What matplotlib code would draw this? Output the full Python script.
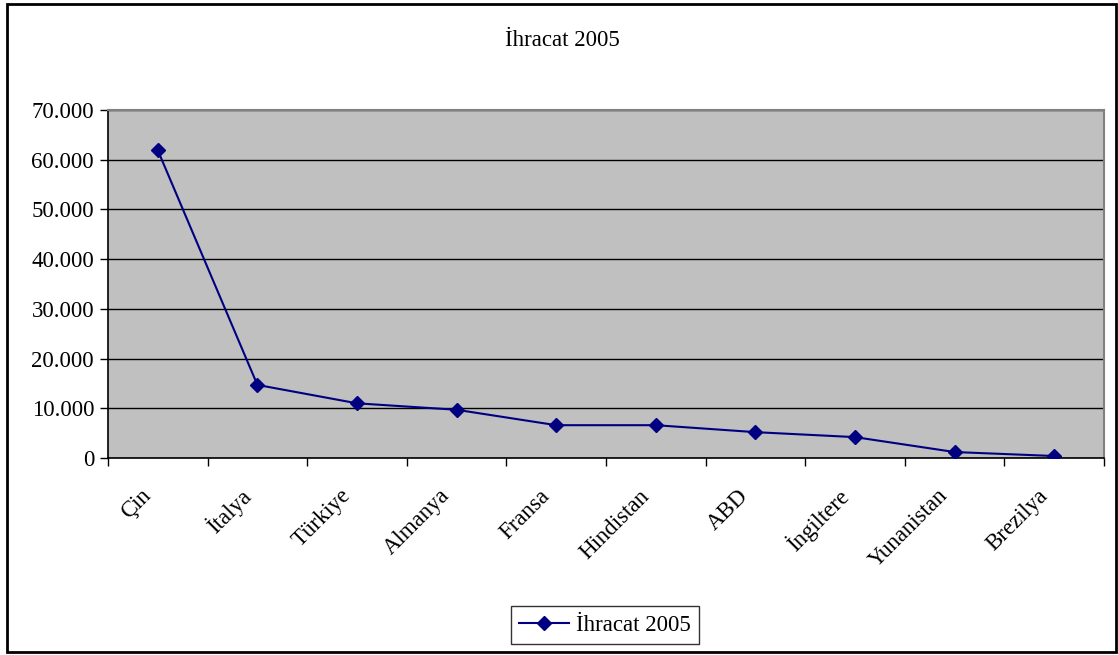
import numpy as np
import matplotlib
matplotlib.use("Agg")
import matplotlib.pyplot as plt
from matplotlib.patches import Rectangle
from matplotlib.ticker import FuncFormatter, FixedLocator
from matplotlib.transforms import ScaledTranslation

countries = ["Çin", "İtalya", "Türkiye", "Almanya", "Fransa",
             "Hindistan", "ABD", "İngiltere", "Yunanistan", "Brezilya"]
export_2005 = [61900, 14700, 11000, 9700, 6600, 6600, 5200, 4200, 1200, 400]
series_name = "İhracat 2005"

plt.rcParams["font.family"] = ["Liberation Serif", "DejaVu Serif"]
fs = 16.5

fig = plt.figure(figsize=(11.18, 6.55), dpi=100)
ax = fig.add_axes([108 / 1118, 197 / 655, 996 / 1118, 348 / 655])
ax.set_facecolor("#c0c0c0")

x = np.arange(len(countries))
ax.plot(x, export_2005, color="#000080", marker="D", markersize=7.5,
        linewidth=1.5, label=series_name, zorder=3)

ax.set_xlim(-0.5, len(countries) - 0.5)
ax.set_ylim(0, 70000)
ax.set_yticks(np.arange(0, 70001, 10000))
ax.yaxis.set_major_formatter(FuncFormatter(lambda v, p: f"{int(v):,}".replace(",", ".")))
ax.grid(axis="y", color="black", linewidth=1)
ax.set_axisbelow(True)

# category labels at centres, tick marks at the boundaries
ax.set_xticks(x)
ax.set_xticklabels(countries, rotation=45, ha="right", va="center",
                   rotation_mode="anchor")
ax.tick_params(axis="x", which="major", length=0, pad=20, labelsize=fs)
ax.xaxis.set_minor_locator(FixedLocator(np.arange(-0.5, len(countries), 1.0)))
ax.tick_params(axis="x", which="minor", length=6, width=1, color="black")
ax.tick_params(axis="y", length=6, width=1, labelsize=fs, pad=4)

# nudge rotated labels a bit left and down, like the original
shift = ScaledTranslation(-10 / 100, -7 / 100, fig.dpi_scale_trans)
for lbl in ax.get_xticklabels():
    lbl.set_transform(lbl.get_transform() + shift)

for side in ["top", "right"]:
    ax.spines[side].set_color("#808080")
    ax.spines[side].set_linewidth(1.5)
for side in ["left", "bottom"]:
    ax.spines[side].set_color("black")
    ax.spines[side].set_linewidth(1.2)

fig.text(562 / 1118, 1 - 40 / 655, series_name, ha="center", va="center", fontsize=fs)

leg = fig.legend(loc="center", bbox_to_anchor=(605 / 1118, 1 - 625 / 655),
                 fontsize=fs, frameon=True, fancybox=False, handlelength=2.2,
                 borderpad=0.35, handletextpad=0.3)
leg.get_frame().set_edgecolor("black")
leg.get_frame().set_linewidth(1)

fig.patches.append(Rectangle((7 / 1118, 3 / 655), 1109 / 1118, 648 / 655,
                             transform=fig.transFigure, fill=False,
                             edgecolor="black", linewidth=2))

plt.savefig("out.png", dpi=100)
